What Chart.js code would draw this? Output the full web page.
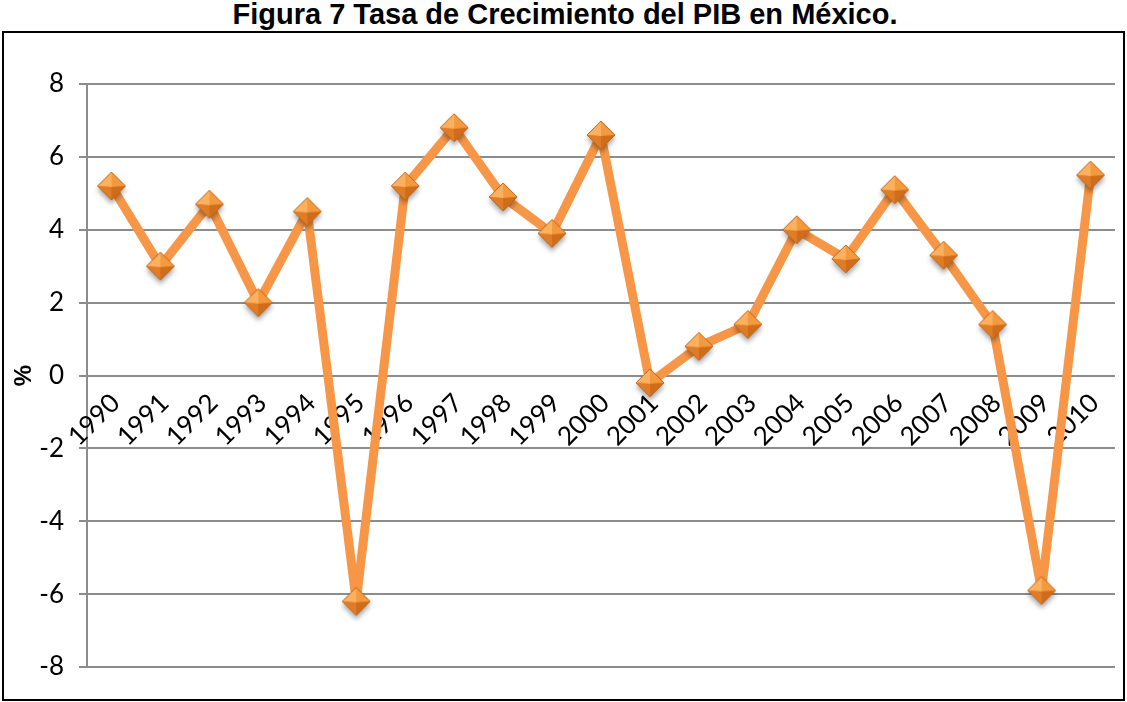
<!DOCTYPE html>
<html>
<head>
<meta charset="utf-8">
<script src="https://cdn.jsdelivr.net/npm/chart.js@4.4.0/dist/chart.umd.min.js"></script>
<style>
body{margin:0;background:#fff;width:1127px;height:702px;overflow:hidden;position:relative}
#title{position:absolute;left:0;top:0;width:1130px;text-align:center;font:bold 29px/29px "Liberation Sans",Arial,sans-serif;color:#000}
#box{position:absolute;left:2px;top:31px;width:1119px;height:666px;border:2px solid #000;overflow:hidden}
#wrap{position:absolute;left:0;top:0;width:1134px;height:666px}
</style>
</head>
<body>
<div id="title">Figura 7 Tasa de Crecimiento del PIB en México.</div>
<div id="box"><div id="wrap"><canvas id="mycanvas"></canvas></div></div>
<script>
var years = ['1990','1991','1992','1993','1994','1995','1996','1997','1998','1999','2000',
	'2001','2002','2003','2004','2005','2006','2007','2008','2009','2010'];
var growth = [5.2, 3.0, 4.7, 2.0, 4.5, -6.2, 5.2, 6.8, 4.9, 3.9, 6.6,
	-0.2, 0.8, 1.4, 4.0, 3.2, 5.1, 3.3, 1.4, -5.9, 5.5];
var yMin = -8;
var yMax = 8;
var yStep = 2;

// diamond marker with shaded facets and a soft shadow
function makeDiamond(r) {
	var pad = 8;
	var c = document.createElement('canvas');
	c.width = 2 * r + 2 * pad;
	c.height = 2 * r + 2 * pad;
	var g = c.getContext('2d');
	var m = r + pad;
	var T = [m, m - r], B = [m, m + r], L = [m - r, m], R = [m + r, m];
	g.save();
	g.shadowColor = 'rgba(0,0,0,0.35)';
	g.shadowBlur = 5;
	g.shadowOffsetY = 4;
	g.beginPath();
	g.moveTo(T[0], T[1]); g.lineTo(R[0], R[1]); g.lineTo(B[0], B[1]); g.lineTo(L[0], L[1]); g.closePath();
	g.fillStyle = '#e8852b';
	g.fill();
	g.restore();
	var faces = [
		[T, L, '#fbb15f'],
		[T, R, '#f49a3e'],
		[R, B, '#cf6d1b'],
		[B, L, '#e07c25']
	];
	faces.forEach(function(f) {
		g.beginPath();
		g.moveTo(m, m + 1);
		g.lineTo(f[0][0], f[0][1]);
		g.lineTo(f[1][0], f[1][1]);
		g.closePath();
		g.fillStyle = f[2];
		g.fill();
	});
	g.beginPath();
	g.moveTo(T[0], T[1]); g.lineTo(R[0], R[1]); g.lineTo(B[0], B[1]); g.lineTo(L[0], L[1]); g.closePath();
	g.strokeStyle = '#c0681c';
	g.lineWidth = 1;
	g.stroke();
	return c;
}

var font = 'Lato, sans-serif';
var ctx = document.getElementById('mycanvas');

new Chart(ctx, {
	type: 'line',
	data: {
		labels: years,
		datasets: [{
			label: 'PIB',
			data: growth,
			borderColor: '#f79646',
			borderWidth: 9,
			borderJoinStyle: 'round',
			tension: 0,
			pointStyle: makeDiamond(14),
			pointRadius: 14,
			pointHoverRadius: 14
		}]
	},
	options: {
		responsive: true,
		maintainAspectRatio: false,
		animation: false,
		layout: {padding: {top: 51, right: 8, bottom: 32, left: 0}},
		plugins: {legend: {display: false}, tooltip: {enabled: false}},
		scales: {
			y: {
				min: yMin,
				max: yMax,
				ticks: {stepSize: yStep, padding: 15, color: '#000', font: {family: font, size: 26}},
				grid: {color: '#8c8c8c', lineWidth: 2, tickLength: 8},
				border: {display: true, color: '#8c8c8c', width: 2},
				title: {display: true, text: '%', color: '#000', padding: {top: 6, bottom: 0},
					font: {family: 'Liberation Sans, Arial, sans-serif', size: 24, weight: 'bold'}},
				afterFit: function(s) { s.width = 83; }
			},
			x: {
				position: {y: 0},
				offset: true,
				grid: {display: false},
				border: {display: false},
				ticks: {minRotation: 45, maxRotation: 45, padding: 4, labelOffset: 4, color: '#000', autoSkip: false,
					font: {family: font, size: 26}}
			}
		}
	}
});
</script>
</body>
</html>
